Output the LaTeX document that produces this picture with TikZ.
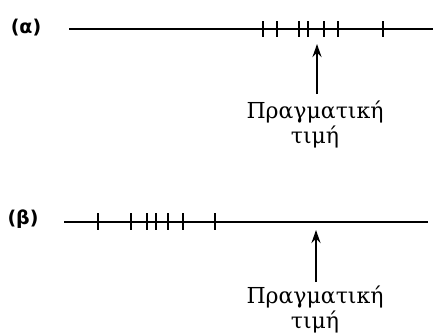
\documentclass[tikz,border=0pt]{standalone}
\usepackage{fontspec}
\setmainfont{DejaVu Serif}
\newfontfamily\labfont{DejaVu Sans}
\usetikzlibrary{arrows.meta}
\tikzset{
  axis/.style={line width=2.7pt},
  tick/.style={line width=2.2pt},
  pointer/.style={line width=2.7pt,-{Stealth[length=13pt,width=9pt]}},
  caption/.style={font=\fontsize{22}{25}\selectfont,align=center,inner sep=0pt},
  partlab/.style={font=\labfont\bfseries\fontsize{19}{21}\selectfont,inner sep=0pt}
}
\begin{document}
\begin{tikzpicture}[x=1pt,y=-1pt]
\useasboundingbox (0,0) rectangle (433,335);
% (a): measurements clustered near the true value
\node[partlab] (la) at (26,28) {(α)};
\coordinate (a0) at (69,29);
\coordinate (a1) at (433,29);
\draw[axis] (a0) -- (a1);
\foreach \x in {263,277,299,308,324,338,383}
  \draw[tick] (\x,21) -- (\x,37);
\coordinate (pa) at (317,94);
\coordinate (ta) at (317,44);
\draw[pointer] (pa) -- (ta);
\node[caption] (ca) at (315,124) {Πραγματική\\τιμή};
% (b): measurements clustered away from the true value
\node[partlab] (lb) at (23,219) {(β)};
\coordinate (b0) at (64,222);
\coordinate (b1) at (428,222);
\draw[axis] (b0) -- (b1);
\foreach \x in {98,131,147,156,168,183,215}
  \draw[tick] (\x,213) -- (\x,230);
\coordinate (pb) at (316,282);
\coordinate (tb) at (316,230);
\draw[pointer] (pb) -- (tb);
\node[caption] (cb) at (315,309) {Πραγματική\\τιμή};
\end{tikzpicture}
\end{document}
